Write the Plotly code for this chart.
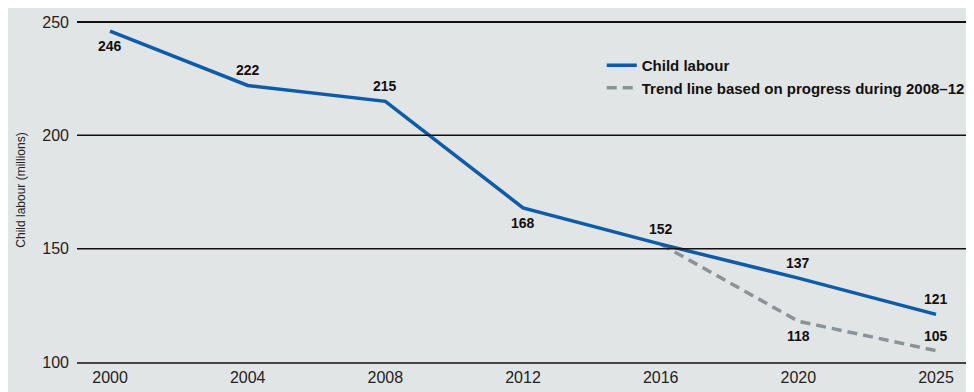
import plotly.graph_objects as go

years = ["2000", "2004", "2008", "2012", "2016", "2020", "2025"]
child_labour = [246, 222, 215, 168, 152, 137, 121]
trend_years = ["2016", "2020", "2025"]
trend_values = [152, 118, 105]
y_ticks = [100, 150, 200, 250]

# label placement: +1 above the point, -1 below, 0 no label
child_label_side = [-1, 1, 1, -1, 1, 1, 1]
trend_label_side = [0, -1, 1]

label_font = dict(family="Liberation Sans, Arial", size=14, color="#111111")

fig = go.Figure()
fig.add_trace(go.Scatter(
    x=trend_years, y=trend_values, mode="lines",
    name="<b>Trend line based on progress during 2008–12</b>",
    line=dict(color="#8a9397", width=3.5, dash="10px,6px"),
))
fig.add_trace(go.Scatter(
    x=years, y=child_labour, mode="lines", name="<b>Child labour</b>",
    line=dict(color="#0e5ba8", width=3.5),
))

for x, v, s in zip(years, child_labour, child_label_side):
    fig.add_annotation(x=years.index(x), y=v, text=f"<b>{v}</b>", showarrow=False,
                       yshift=15 * s, font=label_font)
for x, v, s in zip(trend_years, trend_values, trend_label_side):
    if s != 0:
        fig.add_annotation(x=years.index(x), y=v, text=f"<b>{v}</b>", showarrow=False,
                           yshift=15 * s, font=label_font)

# horizontal grid lines at the tick values above the baseline
for t in y_ticks[1:]:
    fig.add_shape(type="line", xref="paper", x0=0, x1=1, yref="y", y0=t, y1=t,
                  line=dict(color="#111111", width=2 if t == y_ticks[-1] else 1.5),
                  layer="above")

fig.update_layout(
    width=966, height=384,
    paper_bgcolor="#e2e5e6", plot_bgcolor="#e2e5e6",
    margin=dict(l=69, r=0, t=10, b=30),
    showlegend=True,
    legend=dict(x=0.585, y=0.91, xanchor="left", yanchor="top",
                bgcolor="rgba(0,0,0,0)", traceorder="reversed",
                font=dict(family="Liberation Sans, Arial", size=15, color="#111111"),
                itemwidth=30, tracegroupgap=2),
    xaxis=dict(type="category", categoryorder="array", categoryarray=years,
               range=[-0.24, 6.276], showgrid=False, zeroline=False,
               showline=True, linecolor="#444444", linewidth=1.5,
               ticks="", tickfont=dict(family="Liberation Sans, Arial", size=16, color="#222222")),
    yaxis=dict(range=[100, 251.76], tickvals=y_ticks, showgrid=False,
               zeroline=False, showline=False, ticks="",
               ticklabelstandoff=7,
               tickfont=dict(family="Liberation Sans, Arial", size=16, color="#222222"),
               title=dict(text="Child labour (millions)", standoff=14,
                          font=dict(family="Liberation Sans, Arial", size=12, color="#222222"))),
)
fig.write_html("out.html")
